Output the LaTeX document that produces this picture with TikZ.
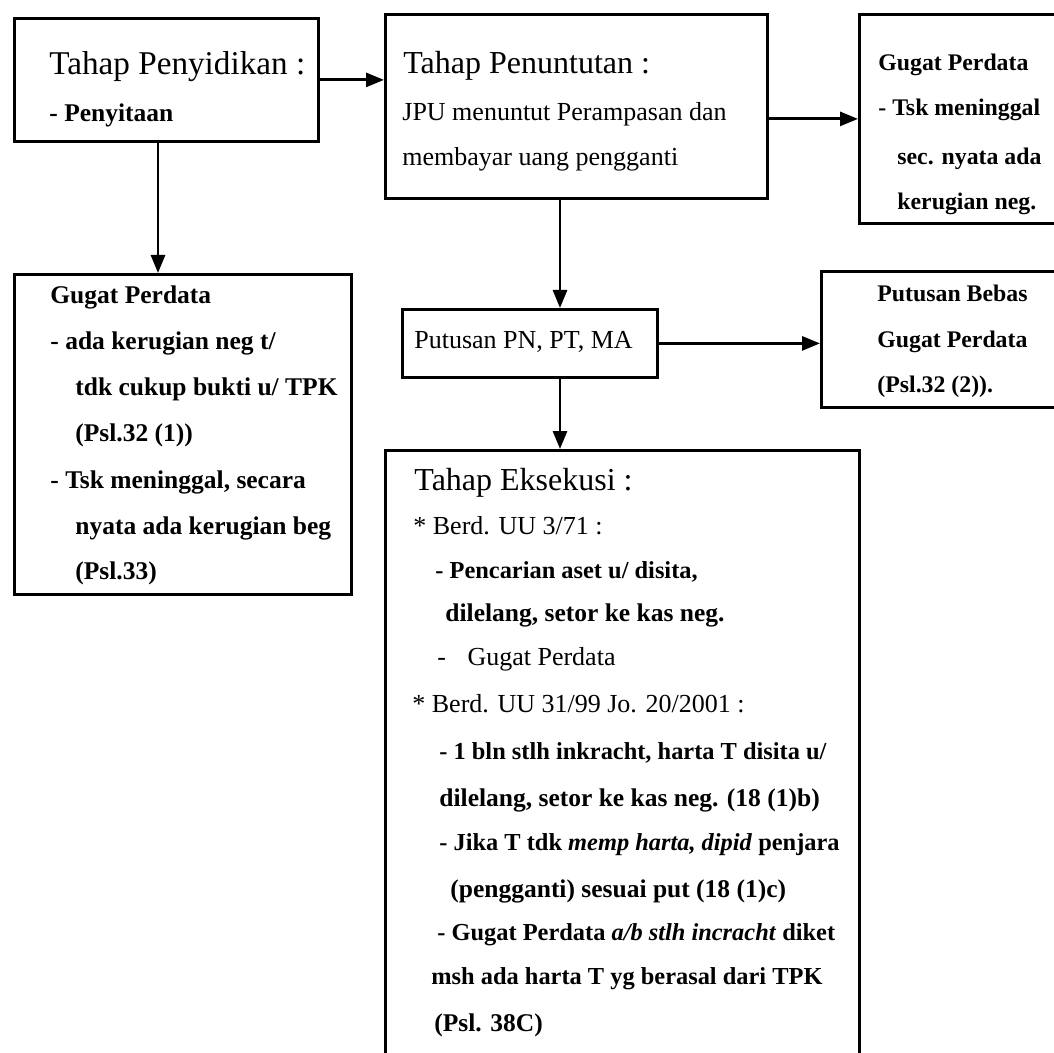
\documentclass[tikz,border=0pt]{standalone}
\usepackage{fontspec}
\setmainfont{Liberation Serif}
\usepackage{tikz}
\usetikzlibrary{positioning}
\usetikzlibrary{arrows.meta,calc}
\tikzstyle{blok} = [draw=black, line width=1.4pt, rectangle, inner sep=0pt, anchor=north west]
\tikzstyle{arrow} = [line width=1.4pt,-{Triangle[length=9pt,width=7pt]}]
\tikzstyle{baris} = [anchor=base west, inner sep=0pt]
\newcommand{\judul}{\fontsize{16}{18}\selectfont}
\newcommand{\isi}{\fontsize{12.75}{14}\selectfont\bfseries}
\newcommand{\isikecil}{\fontsize{12.2}{14}\selectfont\bfseries}
\newcommand{\isikanan}{\fontsize{11.9}{14}\selectfont\bfseries}
\newcommand{\isitipis}{\fontsize{13}{15}\selectfont}

\begin{document}
\begin{tikzpicture}[x=0.5pt,y=-0.5pt]
	\path[use as bounding box] (0,0) rectangle (1054,1053);
	\clip (0,0) rectangle (1054,1053);
	% kotak
	\node[blok, minimum width=152pt, minimum height=61.5pt] (tahapsidik) at (13,17) {};
	\node[blok, minimum width=191pt, minimum height=92pt] (tahaptuntut) at (384,13) {};
	\node[blok, minimum width=110pt, minimum height=104.5pt] (gugatmati) at (858,13) {};
	\node[blok, minimum width=168.5pt, minimum height=160pt] (gugatkiri) at (13,273) {};
	\node[blok, minimum width=127.5pt, minimum height=34pt] (putusan) at (401,308) {};
	\node[blok, minimum width=130pt, minimum height=68pt] (bebas) at (820,270) {};
	\node[blok, minimum width=237pt, minimum height=330pt] (eksekusi) at (384,449) {};
	% isi kotak
	\foreach \xa/\ya/\teks [count=\i] in {49/75/{\judul\fontsize{16.6}{18}\selectfont Tahap Penyidikan :}, 49/122/{\isi - Penyitaan}}
		\node[baris] (sidik-\i) at (\xa,\ya) {\teks};
	\foreach \xa/\ya/\teks [count=\i] in {403/74/{\judul Tahap Penuntutan :},
		402/121/{\isitipis JPU menuntut Perampasan dan},
		402/166/{\isitipis membayar uang pengganti}}
		\node[baris] (tuntut-\i) at (\xa,\ya) {\teks};
	\foreach \xa/\ya/\teks [count=\i] in {878/71/{Gugat Perdata}, 878/116/{- Tsk meninggal},
		897/165/{sec. nyata ada}, 897/210/{kerugian neg.}}
		\node[baris] (mati-\i) at (\xa,\ya) {\isikanan\teks};
	\foreach \xa/\ya/\teks [count=\i] in {50/304/{Gugat Perdata}, 50/350/{- ada kerugian neg t/},
		75/395/{tdk cukup bukti u/ TPK}, 75/441/{(Psl.32 (1))},
		50/488/{- Tsk meninggal, secara}, 75/534/{nyata ada kerugian beg}, 75/579/{(Psl.33)}}
		\node[baris] (kiri-\i) at (\xa,\ya) {\isi\teks};
	\node[baris] (pn-1) at (414,349) {\isitipis Putusan PN, PT, MA};
	\foreach \xa/\ya/\teks [count=\i] in {877/302/{Putusan Bebas}, 877/348/{Gugat Perdata},
		877/393/{(Psl.32 (2)).}}
		\node[baris] (bebas-\i) at (\xa,\ya) {\isikanan\teks};
	\foreach \xa/\ya/\teks [count=\i] in {414/490/{\judul Tahap Eksekusi :},
		413/534/{\isitipis * Berd. UU 3/71 :},
		435/578/{\isikecil - Pencarian aset u/ disita,},
		445/621/{\isi dilelang, setor ke kas neg.},
		437/665/{\isitipis -\hspace{7.5pt} Gugat Perdata},
		412/712/{\isitipis * Berd. UU 31/99 Jo. 20/2001 :},
		439/759/{\isikecil - 1 bln stlh inkracht, harta T disita u/},
		439/806/{\isi dilelang, setor ke kas neg. (18 (1)b)},
		439/850/{\isikecil - Jika T tdk \textit{memp harta, dipid} penjara},
		450/897/{\isi (pengganti) sesuai put (18 (1)c)},
		437/940/{\isikecil - Gugat Perdata \textit{a/b stlh incracht} diket},
		431/984/{\isikecil msh ada harta T yg berasal dari TPK},
		434/1031/{\isi (Psl. 38C)}}
		\node[baris] (eks-\i) at (\xa,\ya) {\teks};
	% panah
	\coordinate (jalurkiri) at ([xshift=72.5pt]tahapsidik.south west);
	\coordinate (jalur) at ([xshift=88pt]tahaptuntut.south west);
	\draw[arrow] (tahapsidik.east) -- (tahapsidik.east -| tahaptuntut.west);
	\draw[arrow] (gugatmati.west -| tahaptuntut.east) -- (gugatmati.west);
	\draw[arrow] (jalurkiri) -- (jalurkiri |- gugatkiri.north);
	\draw[arrow] (jalur) -- (jalur |- putusan.north);
	\draw[arrow] (putusan.east) -- (putusan.east -| bebas.west);
	\draw[arrow] (putusan.south -| jalur) -- (eksekusi.north -| jalur);
\end{tikzpicture}
\end{document}
